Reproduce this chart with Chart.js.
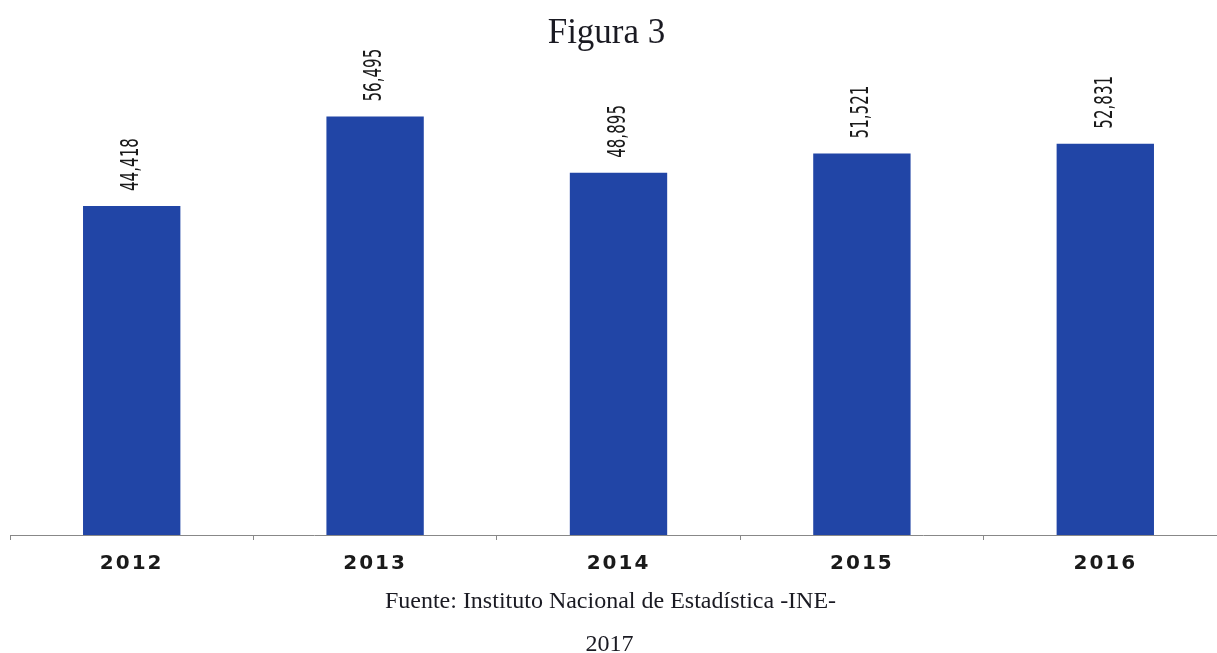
<!DOCTYPE html>
<html>
<head>
<meta charset="utf-8">
<script src="https://cdn.jsdelivr.net/npm/chart.js@4.4.0/dist/chart.umd.min.js"></script>
<style>
  html, body { margin: 0; padding: 0; background: #fff; overflow: hidden; }
  #wrap { position: relative; width: 1217px; height: 653px; overflow: hidden; }
  #box { position: absolute; left: 0; top: 0; width: 1240px; height: 653px; }
  .txt { position: absolute; left: 0; width: 1217px; text-align: center;
         font-family: "Liberation Serif", "Times New Roman", serif; color: #1a1a22; }
  #title { top: 12px; font-size: 35px; left: -2px; }
  #src { top: 587px; font-size: 24px; left: 2px; }
  #year { top: 630px; font-size: 24px; left: 1px; }
</style>
</head>
<body>
<div id="wrap">
  <div id="box"><canvas id="myChart"></canvas></div>
  <div class="txt" id="title">Figura 3</div>
  <div class="txt" id="src">Fuente: Instituto Nacional de Estadística -INE-</div>
  <div class="txt" id="year">2017</div>
</div>
<script>
const years = ["2012", "2013", "2014", "2015", "2016"];
const values = [44418, 56495, 48895, 51521, 52831];
const valueLabels = ["44,418", "56,495", "48,895", "51,521", "52,831"];
const barColor = "#2145a6";

// a little extra spacing for the year labels on the x axis
const spacing = {
  id: "spacing",
  beforeDraw(chart) { chart.ctx.letterSpacing = "2px"; },
  afterDatasetsDraw(chart) { chart.ctx.letterSpacing = "0px"; }
};

// rotated value labels above each bar, squeezed to look condensed
const barLabels = {
  id: "barLabels",
  afterDatasetsDraw(chart) {
    const ctx = chart.ctx;
    const meta = chart.getDatasetMeta(0);
    ctx.save();
    ctx.letterSpacing = "0px";
    ctx.fillStyle = "#1a1a1a";
    ctx.font = '24px "DejaVu Sans", sans-serif';
    ctx.textAlign = "left";
    ctx.textBaseline = "middle";
    meta.data.forEach((bar, i) => {
      ctx.save();
      ctx.translate(bar.x, bar.y - 15);
      ctx.rotate(-Math.PI / 2);
      ctx.scale(0.63, 1);
      ctx.fillText(valueLabels[i], 0, 0);
      ctx.restore();
    });
    ctx.restore();
  }
};

new Chart("myChart", {
  type: "bar",
  data: {
    labels: years,
    datasets: [{
      backgroundColor: barColor,
      data: values,
      barPercentage: 0.4,
      categoryPercentage: 1.0
    }]
  },
  options: {
    responsive: true,
    maintainAspectRatio: false,
    animation: false,
    layout: { padding: { left: 10, right: 13, top: 61, bottom: 0 } },
    plugins: {
      legend: { display: false },
      title: { display: false },
      tooltip: { enabled: false }
    },
    scales: {
      x: {
        afterFit(scale) { scale.height = 118; },
        grid: { offset: true, drawOnChartArea: false, tickLength: 5, color: "#888" },
        border: { color: "#888", width: 1 },
        ticks: {
          padding: 12,
          color: "#1a1a1a",
          font: { family: '"DejaVu Sans", sans-serif', size: 20, weight: "bold" }
        }
      },
      y: {
        display: false,
        min: 0,
        max: 64000
      }
    }
  },
  plugins: [spacing, barLabels]
});
</script>
</body>
</html>
